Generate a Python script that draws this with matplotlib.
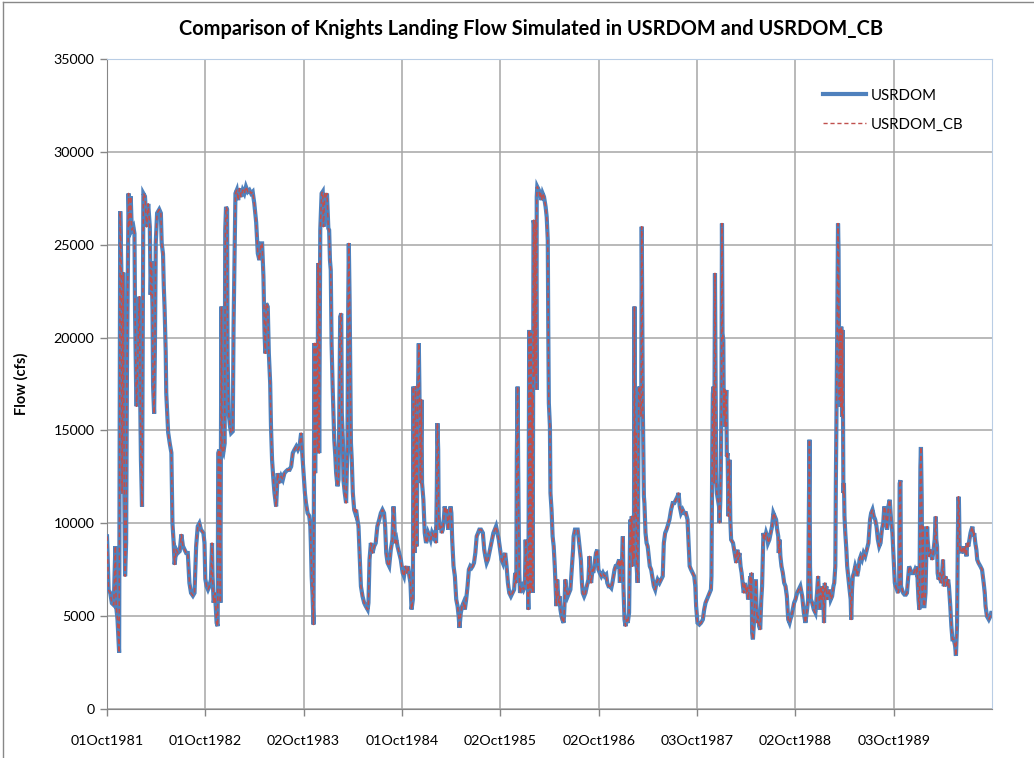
import matplotlib.pyplot as plt
from matplotlib.lines import Line2D

# day offsets from 01Oct1981 and simulated flow (cfs)
days = [
    0, 6, 12, 18, 25, 31, 34, 39, 45, 49, 53, 56, 60, 64, 67, 71, 74, 80, 83, 88,
    92, 98, 102, 104, 108, 110, 114, 120, 123, 126, 130, 135, 141, 147, 153, 159,
    162, 165, 169, 171, 175, 178, 181, 186, 194, 200, 203, 208, 211, 214, 218, 220,
    227, 233, 239, 243, 247, 251, 257, 263, 270, 276, 282, 288, 294, 300, 306, 312,
    319, 325, 331, 337, 343, 349, 358, 362,
    365, 370, 375, 380, 386, 390, 392, 396, 401, 407, 411, 413, 417, 421, 425, 427,
    432, 437, 439, 442, 446, 448, 452, 457, 461, 467, 470, 477, 482, 487, 492, 498,
    504, 510, 516, 523, 529, 535, 541, 547, 554, 560, 566, 572, 576, 581, 585, 588,
    591, 597, 601, 606, 609, 613, 618, 622, 628, 634, 640, 647, 653, 659, 665, 671,
    678, 684, 690, 696, 703, 709, 715, 721, 725,
    730, 735, 739, 745, 751, 755, 757, 760, 763, 767, 770, 773, 777, 782, 784, 788,
    792, 797, 801, 804, 809, 813, 817, 822, 825, 828, 831, 834, 838, 841, 844, 848,
    851, 856, 860, 862, 866, 870, 872, 876, 878, 883, 888, 893, 896, 898, 901, 903,
    906, 909, 913, 918, 922, 925, 930, 934, 938, 943, 949, 955, 961, 968, 971, 975,
    980, 986, 992, 998, 1004, 1011, 1017, 1023, 1029, 1033, 1037, 1042, 1048, 1054,
    1060, 1064, 1066, 1070, 1075, 1079, 1085, 1091,
    1098, 1103, 1108, 1113, 1118, 1123, 1127, 1131, 1136, 1138, 1142, 1146, 1150,
    1154, 1158, 1160, 1164, 1168, 1170, 1175, 1180, 1185, 1189, 1193, 1198, 1202,
    1207, 1212, 1217, 1222, 1225, 1227, 1230, 1232, 1236, 1240, 1243, 1247, 1251,
    1254, 1259, 1263, 1267, 1272, 1276, 1279, 1282, 1287, 1292, 1297, 1302, 1306,
    1309, 1314, 1319, 1324, 1329, 1334, 1339, 1344, 1349, 1354, 1358, 1363, 1368,
    1373, 1378, 1383, 1389, 1396, 1401, 1405, 1410, 1415, 1420, 1425, 1430, 1435,
    1440, 1445, 1450, 1455, 1460, 1465, 1470, 1474, 1479, 1484, 1489,
    1494, 1500, 1506, 1512, 1516, 1520, 1522, 1525, 1527, 1531, 1534, 1537, 1542,
    1547, 1552, 1555, 1559, 1561, 1565, 1568, 1571, 1574, 1576, 1579, 1581, 1584,
    1586, 1588, 1592, 1595, 1596, 1598, 1604, 1608, 1610, 1614, 1618, 1623, 1629,
    1633, 1637, 1639, 1641, 1645, 1647, 1651, 1655, 1659, 1663, 1667, 1669, 1672,
    1675, 1678, 1681, 1684, 1688, 1691, 1696, 1699, 1702, 1706, 1711, 1716, 1721,
    1727, 1731, 1733, 1738, 1743, 1748, 1751, 1755, 1760, 1764, 1767, 1772, 1777,
    1782, 1788, 1792, 1794, 1798, 1803, 1806, 1811, 1816, 1821, 1825,
    1830, 1836, 1842, 1848, 1854, 1858, 1863, 1868, 1873, 1877, 1881, 1885, 1889,
    1893, 1898, 1902, 1905, 1907, 1912, 1916, 1918, 1922, 1926, 1930, 1934, 1939,
    1942, 1944, 1947, 1949, 1952, 1954, 1957, 1959, 1962, 1964, 1967, 1971, 1975,
    1978, 1980, 1984, 1986, 1990, 1994, 1996, 2000, 2004, 2008, 2012, 2016, 2021,
    2027, 2031, 2036, 2041, 2045, 2052, 2058, 2064, 2068, 2073, 2078, 2082, 2089,
    2095, 2101, 2107, 2113, 2119, 2123, 2127, 2132, 2138, 2144, 2150, 2156, 2160,
    2164, 2169, 2175, 2181, 2185, 2188, 2193, 2200, 2206,
    2213, 2218, 2223, 2228, 2233, 2238, 2243, 2245, 2248, 2250, 2253, 2255, 2258,
    2260, 2263, 2265, 2269, 2273, 2275, 2278, 2280, 2282, 2284, 2286, 2289, 2291,
    2294, 2296, 2300, 2302, 2305, 2308, 2312, 2315, 2318, 2325, 2331, 2337, 2341,
    2344, 2349, 2353, 2357, 2362, 2365, 2369, 2374, 2378, 2381, 2386, 2389, 2391,
    2394, 2396, 2399, 2402, 2406, 2410, 2412, 2415, 2418, 2422, 2426, 2430, 2433,
    2436, 2438, 2443, 2448, 2452, 2455, 2460, 2465, 2470, 2475, 2480, 2485, 2489,
    2493, 2495, 2498, 2501, 2505, 2510, 2515, 2520, 2525, 2530, 2535, 2538, 2542,
    2547, 2552,
    2557, 2563, 2569, 2575, 2582, 2588, 2594, 2600, 2604, 2609, 2611, 2614, 2619,
    2625, 2631, 2637, 2641, 2643, 2647, 2651, 2656, 2659, 2663, 2666, 2668, 2672,
    2675, 2680, 2684, 2688, 2693, 2698, 2701, 2705, 2707, 2710, 2712, 2715, 2717,
    2720, 2722, 2725, 2727, 2730, 2732, 2735, 2737, 2739, 2742, 2746, 2749, 2754,
    2758, 2762, 2764, 2767, 2770, 2774, 2779, 2783, 2786, 2791, 2795, 2799, 2804,
    2810, 2816, 2822, 2828, 2834, 2838, 2843, 2848, 2853, 2858, 2863, 2868, 2873,
    2878, 2883, 2887, 2892, 2897, 2902, 2907, 2912, 2917, 2922,
    2926, 2929, 2934, 2938, 2942, 2944, 2947, 2949, 2953, 2957, 2962, 2967, 2971,
    2975, 2979, 2984, 2988, 2991, 2996, 3001, 3006, 3009, 3011, 3014, 3017, 3021,
    3023, 3026, 3028, 3031, 3033, 3036, 3040, 3043, 3046, 3048, 3051, 3053, 3056,
    3058, 3062, 3065, 3070, 3074, 3078, 3080, 3083, 3085, 3089, 3093, 3095, 3099,
    3103, 3105, 3108, 3111, 3115, 3120, 3124, 3127, 3132, 3136, 3140, 3145, 3150,
    3153, 3157, 3160, 3162, 3164, 3167, 3169, 3173, 3177, 3181, 3184, 3188, 3192,
    3195, 3199, 3203, 3207, 3210, 3214, 3218, 3221, 3225, 3229, 3232, 3237, 3244,
    3250, 3256, 3260, 3263, 3268, 3275, 3281, 3284, 3287,
]

usrdom = [
    9300, 6400, 6250, 5700, 5600, 8770, 5540, 4800, 3030, 26800, 23800, 11600, 23500, 11800, 7150, 8950, 18100, 27760, 25960, 27600,
    25790, 25960, 25600, 21500, 17400, 16300, 18800, 22200, 17000, 13400, 10900, 27760, 27600, 25960, 27200, 25960,
    22300, 24100, 21500, 17400, 15900, 19600, 25100, 26700, 26900, 26700, 25100, 24500, 22700, 21500, 19200, 17000,
    14900, 14300, 13800, 10000, 9100, 7780, 8580, 8400, 8500, 9400, 8770, 8580, 8400, 8400, 6790, 6250,
    6100, 6250, 8770, 9840, 10000, 9660, 9480, 8940,
    7000, 6600, 6430, 6600, 6970, 8940, 7150, 5720, 6250, 4640, 4460, 13780, 13960, 5720, 21670, 13960,
    13800, 14300, 25790, 27040, 26900, 18800, 15900, 15200, 14860, 14950, 20600, 27760, 27940, 27400, 28030, 27580,
    27940, 27760, 28120, 27850, 27940, 27760, 27850, 27220, 26200, 24530, 24170, 25070, 25070, 23280, 20230, 19150,
    21840, 21660, 19150, 17540, 15210, 13420, 12350, 11630, 10910, 12700, 12170, 12530, 12350, 12700, 12800, 12880,
    12880, 13060, 13780, 13960, 14140, 13960, 14140, 14860, 13780,
    12700, 11630, 11090, 10550, 10400, 9840, 8940, 7150, 6250, 4550, 19690, 12700, 19690, 13780, 23990, 13780,
    25790, 27760, 27850, 25970, 27760, 27580, 27760, 25880, 25790, 24170, 23640, 19690, 17360, 15930, 14500, 13600,
    12700, 11990, 12350, 14860, 21120, 21300, 15930, 14500, 12350, 11630, 11090, 14320, 22020, 25070, 22020, 18800,
    14320, 13420, 11630, 10730, 10550, 10730, 10200, 9840, 8400, 6610, 6070, 5720, 5540, 5360, 5720, 8050,
    8940, 8400, 8760, 8940, 9840, 10200, 10550, 10730, 10550, 9840, 8400, 7870, 7690, 8580,
    9120, 10910, 10550, 8940, 9120, 8760, 8400, 8050,
    7330, 7150, 7690, 7330, 7690, 7150, 6790, 5360, 5900, 17360, 8400, 17360, 8760,
    16290, 19690, 17540, 12170, 16650, 12170, 11270, 9480, 8940, 9120, 9480, 9300, 9120,
    9480, 9300, 9480, 8940, 12000, 15390, 13960, 10380, 9660, 9840, 9480, 9660, 10200,
    10910, 10550, 10730, 9660, 10550, 10910, 10550, 9120, 7690, 7150, 5900, 5540, 5000,
    4370, 5180, 5540, 5720, 5360, 5900, 6610, 7510, 7690, 7600, 7690, 7870, 8400,
    9300, 9480, 9660, 9660, 9480, 8580, 8220, 7870, 8050, 8400, 8760, 9120, 9480,
    9660, 9840, 9480, 9120, 8580, 8050, 7870, 8220, 8400, 7690, 6790,
    6250, 6070, 6250, 6430, 7330, 6790, 13600, 17360, 13240, 7330, 6250, 6430, 6610,
    6430, 6610, 9120, 6970, 8050, 5360, 20410, 6250, 20230, 6430, 17000, 6250, 26320,
    26140, 17900, 26320, 17180, 27580, 28120, 27940, 27580, 27760, 27400, 27760, 27580, 27040,
    26500, 25250, 20230, 16470, 15210, 11630, 10730, 9300, 8760, 7690, 6250, 5540, 6970,
    6250, 5720, 6070, 5360, 5000, 4820, 4640, 5540, 6970, 6430, 6070, 6250, 6430,
    7690, 8580, 9300, 9660, 9660, 9660, 9300, 8760, 8050, 6790, 6250, 6070, 6250,
    6610, 6970, 8220, 7150, 6790, 7510, 7330, 7870, 8400, 8580, 7510,
    7330, 7150, 7330, 7150, 7240, 6790, 6610, 6610, 6520, 6790, 7150, 7510, 7690,
    7690, 7870, 8050, 6790, 8050, 7690, 9300, 6610, 4820, 4460, 4820, 4640, 5180,
    8580, 10200, 8400, 10380, 7690, 9480, 8050, 21670, 10380, 14860, 7690, 6790, 17180,
    17360, 16650, 15750, 25970, 16290, 11450, 11090, 9480, 8940, 8760, 8220, 7690, 7510,
    6970, 6610, 6430, 6790, 6970, 6790, 6970, 7150, 8940, 9480, 9660, 9840, 10200,
    10730, 11090, 11090, 11270, 11450, 11630, 10910, 10550, 10730, 10550, 10550, 10200, 8940,
    7690, 7510, 7330, 7150, 6610, 5540, 4640, 4550, 4640,
    4820, 5360, 5720, 5900, 6070, 6250, 6430, 7150, 13960, 17000, 17360, 12170, 23460,
    18440, 12170, 11630, 11270, 10910, 10020, 11270, 13060, 16830, 26140, 20230, 19870, 15750,
    17180, 15210, 17180, 13600, 13780, 10380, 13420, 10200, 9120, 8940, 8400, 7870, 8580,
    8050, 8400, 7690, 7330, 6610, 6250, 6790, 6250, 6610, 5900, 6610, 7150, 5900,
    7330, 4100, 3750, 4460, 5900, 6970, 5720, 4640, 5000, 4460, 4280, 5900, 6610,
    8400, 9480, 9120, 9480, 9300, 8940, 9120, 9480, 9840, 10550, 10380, 10200, 9660,
    9300, 8400, 9120, 8220, 7690, 7330, 6790, 6610, 6070, 4820, 4640, 4820, 5000,
    5360, 5720,
    5900, 6250, 6430, 6610, 6070, 5180, 4640, 5360, 5900, 14500, 7690, 5900, 5720,
    5360, 5180, 6250, 7150, 6610, 5360, 6610, 5900, 6610, 4640, 6790, 6430, 6610,
    5900, 6250, 6430, 5900, 6070, 6610, 6790, 7690, 12170, 16650, 20230, 26140, 24710,
    16650, 20410, 16290, 20590, 15750, 20410, 11630, 12170, 10380, 9480, 8580, 7690, 6970,
    6430, 5900, 4820, 6430, 7150, 7330, 7690, 7510, 7150, 7510, 8050, 8220, 8050,
    8400, 8220, 8580, 8940, 10200, 10550, 10730, 10380, 10200, 9840, 9120, 8760, 8940,
    9660, 10020, 10910, 10550, 9660, 10910, 11270, 10200, 9480, 8050,
    6790, 6610, 6430, 6250, 6610, 12140, 12320, 6610, 6430, 6250, 6160, 6160, 6250,
    6970, 7680, 7500, 7320, 7320, 7320, 7500, 7320, 7680, 6790, 5890, 5360, 13040,
    14110, 11250, 5890, 9820, 5540, 5540, 6250, 8390, 9820, 9110, 8570, 8220, 8390,
    8570, 8220, 8040, 8570, 9110, 10360, 9110, 8750, 7320, 6970, 7320, 6970, 6790,
    7680, 8040, 6610, 6970, 7140, 6610, 6970, 6610, 5540, 4470, 3750, 3750, 3390,
    2860, 4470, 9110, 11430, 11250, 8570, 8750, 8390, 8570, 8750, 8390, 8750, 8220,
    8930, 8750, 9110, 9470, 9640, 9820, 9290, 9470, 8930, 8570, 8040, 7860, 7680,
    7500, 6790, 6250, 5540, 5000, 4820, 5000, 5180, 5180,
]

# the cross-boundary run tracks the base run
usrdom_cb = list(usrdom)

tick_days = [0, 365, 730, 1096, 1461, 1826, 2192, 2557, 2922]
tick_labels = ["01Oct1981", "01Oct1982", "02Oct1983", "01Oct1984", "02Oct1985",
               "02Oct1986", "03Oct1987", "02Oct1988", "03Oct1989"]

plt.rcParams["font.family"] = ["Lato", "DejaVu Sans"]

fig = plt.figure(figsize=(10.34, 7.58), dpi=100)
ax = fig.add_axes([0.1035, 0.0646, 0.8559, 0.8576])

ax.plot(days, usrdom, color="#4F81BD", lw=3.0, solid_joinstyle="miter", label="USRDOM", zorder=3)
ax.plot(days, usrdom_cb, color="#C0504D", lw=1.1, ls=(0, (3, 2)), label="USRDOM_CB", zorder=4)

ax.set_xlim(0, 3287)
ax.set_ylim(0, 35000)
ax.set_yticks(range(0, 35001, 5000))
ax.set_xticks(tick_days)
ax.set_xticklabels(tick_labels)
ax.grid(True, color="#A6A6A6", lw=1.1)
ax.set_axisbelow(True)
ax.tick_params(axis="both", direction="out", length=5, width=1, color="#868686",
               labelsize=10.3, pad=4)
ax.tick_params(axis="x", pad=14)
for s in ("left", "bottom"):
    ax.spines[s].set_color("#868686")
for s in ("top", "right"):
    ax.spines[s].set_color("#B9CDE5")

ax.set_ylabel("Flow (cfs)", fontsize=10.5, fontweight="bold", labelpad=18)
fig.text(0.514, 0.962, "Comparison of Knights Landing Flow Simulated in USRDOM and USRDOM_CB",
         ha="center", va="center", fontsize=14.4, fontweight="bold")

handles = [Line2D([], [], color="#4F81BD", lw=3.0),
           Line2D([], [], color="#C0504D", lw=1.0, ls=(0, (3, 2)))]
ax.legend(handles, ["USRDOM", "USRDOM_CB"], loc="upper right", bbox_to_anchor=(0.983, 0.975),
          frameon=False, fontsize=10.8, handlelength=2.9, handletextpad=0.3, labelspacing=1.0)

# thin outer chart border
fig.add_artist(Line2D([0.003, 1.0], [0.997, 0.997], transform=fig.transFigure, color="#888888", lw=1))
fig.add_artist(Line2D([0.003, 0.003], [0.0, 0.997], transform=fig.transFigure, color="#888888", lw=1))

fig.savefig("out.png", dpi=100)
